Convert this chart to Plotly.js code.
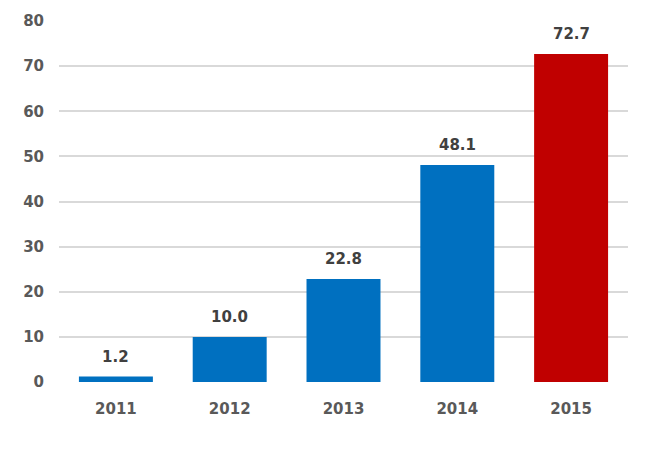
<!DOCTYPE html>
<html>
<head>
<meta charset="utf-8">
<script src="https://cdn.plot.ly/plotly-3.0.1.min.js"></script>
<style>
  html, body { margin: 0; padding: 0; background: #fff; }
  #chart { width: 659px; height: 450px; }
</style>
</head>
<body>
<div id="chart"></div>
<script>
// 연도별 값
const years = ['2011', '2012', '2013', '2014', '2015'];
const values = [1.2, 10.0, 22.8, 48.1, 72.7];
const barColors = ['#0070C0', '#0070C0', '#0070C0', '#0070C0', '#C00000'];
const yTicks = [0, 10, 20, 30, 40, 50, 60, 70, 80];

const labelFont = { family: 'DejaVu Sans', size: 15, color: '#404040', weight: 'bold' };
const tickFont = { family: 'DejaVu Sans', size: 15, color: '#595959', weight: 'bold' };

const trace = {
    x: years,
    y: values,
    type: 'bar',
    marker: { color: barColors, line: { width: 0 } },
    cliponaxis: false,
    hoverinfo: 'none'
};

// 막대 위 값 라벨 (막대와 간격을 두기 위해 annotation 사용)
const labels = years.map((yr, i) => ({
    x: yr,
    y: values[i],
    xref: 'x',
    yref: 'y',
    text: values[i].toFixed(1),
    showarrow: false,
    yanchor: 'bottom',
    yshift: 9,
    font: labelFont
}));

const layout = {
    width: 659,
    height: 450,
    margin: { l: 59, r: 31, t: 21, b: 68 },
    paper_bgcolor: '#ffffff',
    plot_bgcolor: '#ffffff',
    showlegend: false,
    bargap: 0.35,
    annotations: labels,
    xaxis: {
        showgrid: false,
        showline: false,
        zeroline: false,
        ticks: '',
        ticklabelstandoff: 16,
        tickfont: tickFont
    },
    yaxis: {
        range: [0, 80],
        tickvals: yTicks,
        showgrid: true,
        gridcolor: '#D9D9D9',
        gridwidth: 2,
        zeroline: false,
        showline: false,
        ticks: '',
        ticklabelstandoff: 14,
        tickfont: tickFont
    }
};

Plotly.newPlot('chart', [trace], layout, { staticPlot: true, displayModeBar: false });
</script>
</body>
</html>
